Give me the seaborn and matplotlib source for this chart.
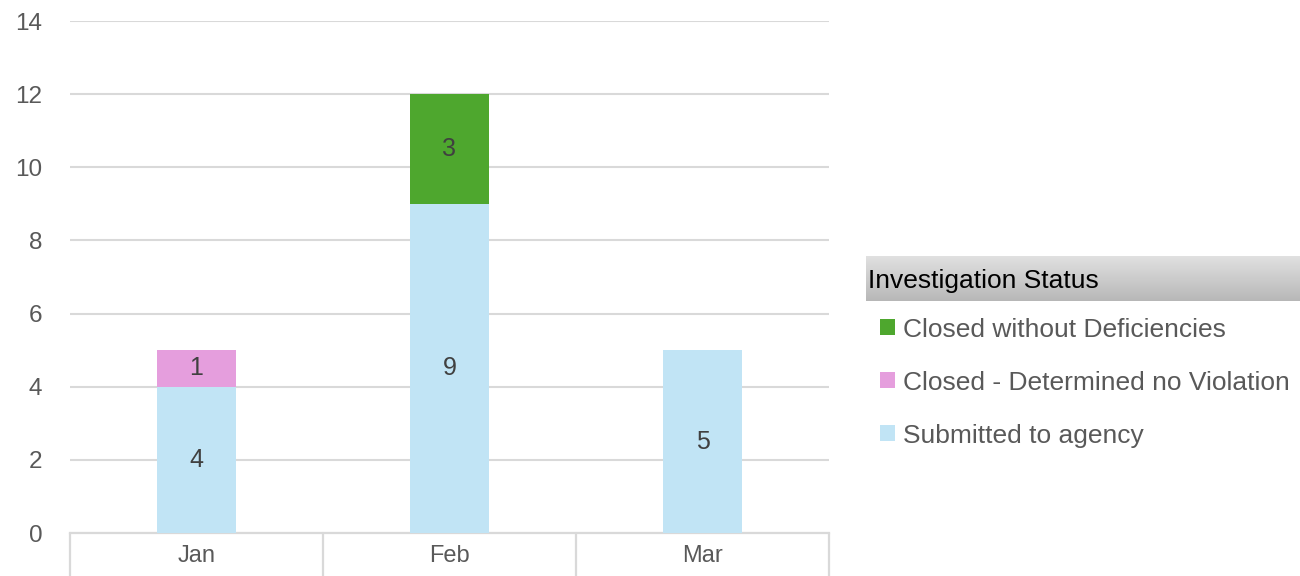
import numpy as np
import pandas as pd
import matplotlib
matplotlib.use("Agg")
import matplotlib.pyplot as plt
from matplotlib.patches import Patch
import seaborn as sns

months = ["Jan", "Feb", "Mar"]
submitted = [4, 9, 5]
closed_no_violation = [1, 0, 0]
closed_no_deficiencies = [0, 3, 0]
series_names = ["Submitted to agency", "Closed - Determined no Violation", "Closed without Deficiencies"]
series_colors = ["#C1E4F5", "#E59EDD", "#4EA72E"]
y_ticks = [0, 2, 4, 6, 8, 10, 12, 14]
legend_title = "Investigation Status"

sns.set_theme(style="white")
plt.rcParams["font.family"] = ["Liberation Sans", "DejaVu Sans"]

fig = plt.figure(figsize=(13, 5.76), dpi=100)
ax = fig.add_axes([70 / 1300, 1 - 533 / 576, (829 - 70) / 1300, (533 - 21) / 576])

series_values = [submitted, closed_no_violation, closed_no_deficiencies]
bottoms = np.zeros(len(months))
grid_color = "#D9D9D9"
label_color = "#404040"

for name, vals, col in zip(series_names, series_values, series_colors):
    df = pd.DataFrame({"month": months, "value": vals})
    sns.barplot(data=df, x="month", y="value", order=months, color=col,
                width=0.316, bottom=bottoms.copy(), ax=ax, errorbar=None,
                saturation=1, zorder=3, linewidth=0)
    cont = ax.containers[-1]
    labels = [str(v) if v > 0 else "" for v in vals]
    ax.bar_label(cont, labels=labels, label_type="center", fontsize=18, color=label_color)
    bottoms = bottoms + np.array(vals)

ax.set_xlim(-0.5, len(months) - 0.5)
ax.set_ylim(0, 14)
ax.set_yticks(y_ticks)
ax.set_yticklabels([str(t) for t in y_ticks])
ax.set_xlabel("")
ax.set_ylabel("")
ax.yaxis.grid(True, color=grid_color, linewidth=1.5, zorder=0)
ax.xaxis.grid(False)
ax.set_axisbelow(True)
for s in ["top", "right", "left"]:
    ax.spines[s].set_visible(False)
ax.spines["bottom"].set_color(grid_color)
ax.spines["bottom"].set_linewidth(1.6)
ax.tick_params(axis="y", length=0, pad=20, labelsize=17.5, labelcolor="#595959")
ax.tick_params(axis="x", length=0, pad=9, labelsize=17, labelcolor="#595959")

# category separators extending below axis
trans = ax.get_xaxis_transform()
for xb in np.arange(-0.5, len(months), 1.0):
    ax.plot([xb, xb], [0, -0.09], color=grid_color, linewidth=1.6,
            transform=trans, clip_on=False, zorder=1)

# legend header with gradient
hax = fig.add_axes([866 / 1300, 1 - 301 / 576, (1299 - 866) / 1300, 45 / 576])
grad = np.linspace(0.88, 0.72, 100).reshape(-1, 1)
hax.imshow(np.dstack([grad, grad, grad]), aspect="auto", extent=[0, 1, 0, 1])
hax.set_axis_off()
fig.text(868 / 1300, 1 - 281 / 576, legend_title, fontsize=19, color="black",
         va="center", ha="left")

handles = [Patch(facecolor=c, edgecolor="none") for c in series_colors]
order = [2, 1, 0]
leg = fig.legend([handles[i] for i in order], [series_names[i] for i in order],
                 loc="upper left", bbox_to_anchor=(869.5 / 1300, 1 - 307 / 576),
                 frameon=False, fontsize=19, labelcolor="#595959",
                 handlelength=0.57, handleheight=0.57, handletextpad=0.3,
                 labelspacing=1.1, borderaxespad=0)

fig.savefig("out.png", dpi=100)
